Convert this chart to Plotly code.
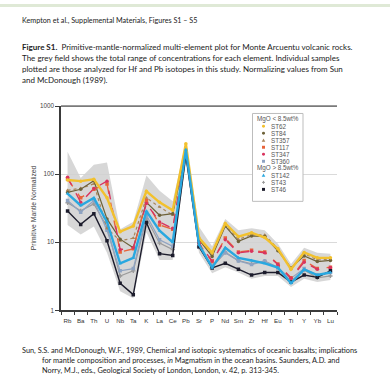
import plotly.graph_objects as go

W, H = 390, 385

elements = ["Rb", "Ba", "Th", "U", "Nb", "Ta", "K", "La", "Ce", "Pb", "Sr",
            "P", "Nd", "Sm", "Zr", "Hf", "Eu", "Ti", "Y", "Yb", "Lu"]

# total range of concentrations (primitive-mantle normalized)
range_max = [214, 88, 138, 149, 15.5, 20, 96, 57, 40, 300, 16.9, 8.7, 22, 15, 16, 15, 9.5, 4.8, 8.3, 7.0, 6.8]
range_min = [18, 13, 17, 7, 1.9, 1.5, 14, 5.5, 5.5, 150, 7.0, 3.5, 4.3, 3.6, 2.9, 3.2, 3.2, 2.2, 2.9, 2.6, 2.8]

# individual samples
st62 = [82, 79, 84, 45, 14.3, 17.3, 56, 38.6, 29.4, 280, 11.6, 7.0, 18.9, 12.1, 13.8, 11.7, 8.0, 4.0, 7.1, 5.9, 5.9]
st84 = [54, 60, 80, 22, 11.1, 8.3, 38.6, 24.9, 26.3, 220, 10.9, 6.2, 17.3, 10.3, 12.4, 12.1, 7.5, 4.2, 6.3, 5.2, 5.4]
st357 = [58, 62, 72, 16, 10.5, 11.5, 45, 33, 25, 240, 11.5, 6.6, 18, 11, 13, 12.8, 8.0, 4.1, 6.8, 5.5, 5.6]
st117 = [85, 45, 60, 72, 7.2, 8.0, 41, 18, 15.5, 210, 9.5, 5.2, 11.5, 7.2, 7.6, 7.2, 4.8, 3.0, 5.4, 4.1, 4.3]
st347 = [90, 38.6, 61.5, 79, 7.8, 8.3, 37, 19.9, 16, 220, 9.7, 5.3, 10.9, 7.0, 7.4, 7.0, 4.7, 2.95, 5.1, 4.0, 4.25]
st360 = [41, 27.7, 41, 15, 3.8, 4.1, 24.9, 10.9, 8.7, 200, 8.5, 4.6, 7.0, 5.3, 4.7, 5.3, 4.2, 2.95, 4.1, 3.3, 3.6]
st142 = [52, 34.7, 44.8, 19.9, 4.9, 5.9, 28.7, 14.8, 10, 230, 9.2, 4.25, 8.3, 5.9, 5.4, 4.9, 4.25, 2.5, 4.0, 3.3, 3.6]
st43 = [38, 29, 36.6, 16.9, 3.2, 3.8, 22.3, 9.7, 7.8, 190, 8.5, 4.3, 7.1, 5.4, 4.8, 5.3, 4.3, 2.7, 3.9, 3.0, 3.2]
st46 = [28.7, 18.3, 26.3, 10.5, 2.5, 1.7, 19.5, 6.8, 6.4, 190, 8.6, 4.2, 4.9, 4.0, 3.3, 3.6, 3.6, 2.6, 3.3, 3.05, 3.8]

major_ticks = [1, 10, 100, 1000]
minor_ticks = [m * d for d in (1, 10, 100) for m in range(2, 10)]

# (name, values, colour, symbol, dash, width) grouped by MgO content
low_mgo = [
    ("ST62", st62, "#f2c12e", "circle", "solid", 2.4),
    ("ST84", st84, "#6e6239", "circle", "solid", 1.2),
    ("ST357", st357, "#a9865b", "triangle-up", "dot", 1.2),
    ("ST117", st117, "#e8643a", "square", "dash", 1.4),
    ("ST347", st347, "#d9345f", "circle", "dash", 1.4),
    ("ST360", st360, "#8ea3c2", "square", "solid", 1.2),
]
high_mgo = [
    ("ST142", st142, "#29a8e0", "triangle-up", "solid", 2.4),
    ("ST43", st43, "#9a9a9a", "cross", "solid", 1.2),
    ("ST46", st46, "#1c1c2c", "square", "solid", 1.4),
]

fig = go.Figure()

# grey envelope
fig.add_trace(go.Scatter(
    x=elements + elements[::-1],
    y=range_max + range_min[::-1],
    fill="toself", fillcolor="rgba(208,208,208,0.85)",
    line=dict(width=0), mode="lines", hoverinfo="skip", showlegend=False,
))

draw_order = [high_mgo[1], low_mgo[5], low_mgo[2], low_mgo[1], low_mgo[3], low_mgo[4],
              high_mgo[2], low_mgo[0], high_mgo[0]]
for name, vals, col, sym, dash, lw in draw_order:
    fig.add_trace(go.Scatter(
        x=elements, y=vals, name=name, mode="lines+markers",
        line=dict(color=col, width=lw, dash=dash),
        marker=dict(color=col, symbol=sym, size=3.5),
        showlegend=False,
    ))

x0, x1 = 61 / W, 337 / W
y0, y1 = 1 - 312 / H, 1 - 104 / H
axis_col = "#3a3a3a"

def px(v):
    return v / W

def py(v):
    return 1 - v / H

shapes = [
    # green strip of the page viewer
    dict(type="rect", xref="paper", yref="paper", x0=0, x1=1, y0=py(3), y1=1,
         fillcolor="#dfe9d6", line=dict(width=0), layer="below"),
    # legend box
    dict(type="rect", xref="paper", yref="paper", x0=px(252.5), x1=px(303),
         y0=py(201), y1=py(111.5), fillcolor="white",
         line=dict(color="#bdbdbd", width=1), layer="above"),
    # top frame
    dict(type="line", xref="paper", yref="paper", x0=x0, x1=x1, y0=y1, y1=y1,
         line=dict(color="#7a7a7a", width=1.6)),
]

# hand-built legend: symbols as small shapes, labels as annotations
legend_x_marker = 263.5
legend_x_text = 268.5
row_top = 117.3
row_step = 7.15
rows = [("MgO < 8.5wt%", None)] + [(e[0], e) for e in low_mgo] + \
       [("MgO > 8.5wt%", None)] + [(e[0], e) for e in high_mgo]

legend_font = dict(family="Liberation Sans", size=6.3, color="#555")
annotations = []
r = 1.5
for i, (label, entry) in enumerate(rows):
    cy = row_top + i * row_step
    if entry is None:
        annotations.append(dict(x=px(278), y=py(cy), xref="paper", yref="paper",
                                text=label, showarrow=False, xanchor="center", yanchor="middle",
                                font=legend_font))
        continue
    col, sym = entry[2], entry[3]
    cx = legend_x_marker
    if sym == "circle":
        shapes.append(dict(type="circle", xref="paper", yref="paper",
                           x0=px(cx - r), x1=px(cx + r), y0=py(cy + r), y1=py(cy - r),
                           fillcolor=col, line=dict(width=0), layer="above"))
    elif sym == "square":
        shapes.append(dict(type="rect", xref="paper", yref="paper",
                           x0=px(cx - r), x1=px(cx + r), y0=py(cy + r), y1=py(cy - r),
                           fillcolor=col, line=dict(width=0), layer="above"))
    elif sym == "triangle-up":
        path = (f"M {px(cx - r - 0.3)},{py(cy + r)} L {px(cx + r + 0.3)},{py(cy + r)} "
                f"L {px(cx)},{py(cy - r - 0.3)} Z")
        shapes.append(dict(type="path", xref="paper", yref="paper", path=path,
                           fillcolor=col, line=dict(width=0), layer="above"))
    else:
        for dx0, dy0, dx1, dy1 in ((-r, 0, r, 0), (0, -r, 0, r)):
            shapes.append(dict(type="line", xref="paper", yref="paper",
                               x0=px(cx + dx0), x1=px(cx + dx1), y0=py(cy + dy0), y1=py(cy + dy1),
                               line=dict(color=col, width=1), layer="above"))
    annotations.append(dict(x=px(legend_x_text), y=py(cy), xref="paper", yref="paper",
                            text=label, showarrow=False, xanchor="left", yanchor="middle",
                            font=legend_font))

# page text
page_font = "Lato"
def page_text(txt, x, y, size, color="#222"):
    annotations.append(dict(x=px(x), y=py(y), xref="paper", yref="paper", text=txt,
                            showarrow=False, xanchor="left", yanchor="middle",
                            font=dict(family=page_font, size=size, color=color)))

page_text("Kempton et al., Supplemental Materials, Figures S1 \u2013 S5", 20, 17, 7.2)
caption = [
    "<b>Figure S1.</b>  Primitive-mantle-normalized multi-element plot for Monte Arcuentu volcanic rocks.",
    "The grey field shows the total range of concentrations for each element. Individual samples",
    "plotted are those analyzed for Hf and Pb isotopes in this study. Normalizing values from Sun",
    "and McDonough (1989).",
]
for i, line in enumerate(caption):
    page_text(line, 20, 44 + 11 * i, 8.0)

reference = [
    ("Sun, S.S. and McDonough, W.F., 1989, Chemical and isotopic systematics of oceanic basalts; implications", 20),
    ("for mantle composition and processes, <i>in</i> Magmatism in the ocean basins. Saunders, A.D. and", 40),
    ("Norry, M.J., eds., Geological Society of London, London, v. 42, p. 313-345.", 40),
]
for i, (line, x) in enumerate(reference):
    page_text(line, x, 352.5 + 10.5 * i, 7.35)

# y-axis title
annotations.append(dict(x=px(33), y=py(208), xref="paper", yref="paper",
                        text="Primitive Mantle Normalized", textangle=-90, showarrow=False,
                        xanchor="center", yanchor="middle",
                        font=dict(family="Liberation Sans", size=6.8, color="#444")))

log_common = dict(type="log", range=[0, 3], tickmode="array", showgrid=False)

fig.update_layout(
    width=W, height=H, margin=dict(l=0, r=0, t=0, b=0),
    paper_bgcolor="white", plot_bgcolor="rgba(0,0,0,0)",
    showlegend=False,
    annotations=annotations, shapes=shapes,
    xaxis=dict(type="category", domain=[x0, x1], range=[-0.5, 20.5], anchor="y",
               showline=True, linecolor=axis_col, linewidth=1.5, tickangle=0,
               ticks="outside", tickson="boundaries", ticklen=3, tickcolor=axis_col,
               ticklabelstandoff=3,
               showgrid=False, tickfont=dict(family="Liberation Sans", size=6.2, color="#333")),
    yaxis=dict(log_common, domain=[y0, y1], anchor="x", tickvals=major_ticks,
               ticktext=[str(v) for v in major_ticks],
               showline=True, linecolor=axis_col, linewidth=1.5,
               ticks="outside", ticklen=4, tickcolor=axis_col,
               showgrid=True, gridcolor="#dadada", gridwidth=0.8,
               tickfont=dict(family="Liberation Sans", size=6.3, color="#444")),
    # short minor ticks on the left edge
    yaxis4=dict(log_common, overlaying="y", side="left", anchor="x",
                tickvals=minor_ticks, ticks="outside", ticklen=2, tickcolor=axis_col,
                showticklabels=False, showline=False),
    # right frame with inward ticks
    yaxis2=dict(log_common, overlaying="y", side="right", anchor="x",
                tickvals=major_ticks + minor_ticks, ticks="inside", ticklen=3, tickcolor=axis_col,
                showline=True, linecolor=axis_col, linewidth=1.5, showticklabels=False),
)

fig.write_html("out.html")
